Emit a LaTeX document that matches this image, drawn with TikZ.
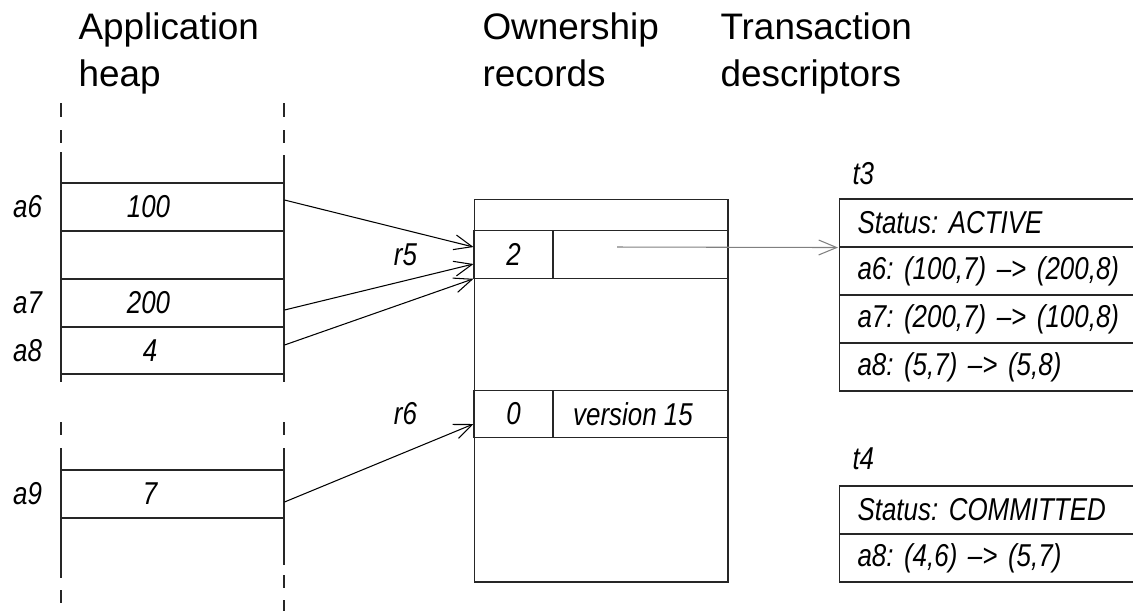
\documentclass[tikz,border=0pt]{standalone}
\usepackage{fontspec}
\setmainfont{Liberation Sans}
\newfontfamily\cellfont[FakeStretch=0.82]{Liberation Sans}
\usetikzlibrary{arrows.meta, positioning}
\frenchspacing

\tikzset{
    heading/.style={
        align=left, anchor=north west, inner sep=0pt, font=\fontsize{21}{27}\selectfont
    },
    heapcell/.style={
        rectangle, draw=black!85, minimum width=4.46cm, minimum height=0.96cm, inner sep=0pt
    },
    value/.style={
        inner sep=0pt, font=\cellfont\itshape\fontsize{18}{20}\selectfont
    },
    heapline/.style={
        draw=black!85
    },
    recbox/.style={
        rectangle, draw=black!85, minimum width=5.08cm, minimum height=7.66cm, inner sep=0pt
    },
    reccell/.style={
        rectangle, draw=black!85, minimum height=0.95cm, inner sep=0pt, font=\cellfont\itshape\fontsize{18}{20}\selectfont
    },
    desc/.style={
        rectangle, draw=black!85, anchor=west, minimum height=0.96cm, text width=6cm, inner xsep=0.36cm, inner ysep=0pt, align=left, font=\cellfont\itshape\fontsize{18}{20}\selectfont
    }
}

\begin{document}
\begin{tikzpicture}[x=0.02cm, y=-0.02cm, line width=0.6pt, >={Straight Barb[length=0.36cm,width=0.3cm]}]

    \useasboundingbox (0,0) rectangle (1133,610);
    \clip (0,0) rectangle (1133,610);

    % Headings
    \node[heading] (heaphead) at (78,12) {Application\\heap};
    \node[heading] (ownhead) at (482,12) {Ownership\\records};
    \node[heading] (txhead) at (720,12) {Transaction\\descriptors};

    % Application heap
    \node[heapcell] (a6cell) at (172.5,207) {};
    \node[heapcell] (gapcell) at (172.5,255) {};
    \node[heapcell] (a7cell) at (172.5,303) {};
    \node[heapcell, minimum height=0.94cm] (a8cell) at (172.5,350.5) {};
    \node[heapcell] (a9cell) at (172.5,494) {};

    \node[value] (v6) at ([xshift=-0.48cm]a6cell.center) {100};
    \node[value] (v7) at ([xshift=-0.48cm]a7cell.center) {200};
    \node[value] (v8) at ([xshift=-0.45cm]a8cell.center) {4};
    \node[value] (v9) at ([xshift=-0.45cm]a9cell.center) {7};

    \node[value, left=0.36cm of a6cell] (a6) {a6};
    \node[value, left=0.36cm of a7cell] (a7) {a7};
    \node[value, left=0.36cm of a8cell] (a8) {a8};
    \node[value, left=0.36cm of a9cell] (a9) {a9};

    % Heap borders
    \draw[heapline] (61,152) -- (61,382);
    \draw[heapline] (284,155) -- (284,382);
    \draw[heapline] (61,448) -- (61,578);
    \draw[heapline] (284,448) -- (284,565);
    \draw[heapline] (61,103) -- (61,117);
    \draw[heapline] (61,130) -- (61,143);
    \draw[heapline] (284,103) -- (284,117);
    \draw[heapline] (284,130) -- (284,143);
    \draw[heapline] (61,422) -- (61,435);
    \draw[heapline] (284,422) -- (284,435);
    \draw[heapline] (61,590) -- (61,603);
    \draw[heapline] (284,575) -- (284,588);
    \draw[heapline] (284,600) -- (284,612);

    % Ownership records
    \node[recbox] (records) at (601,390.5) {};
    \node[reccell, minimum width=1.58cm] (r5cnt) at (513.5,254.5) {2};
    \node[reccell, minimum width=3.5cm] (r5own) at (640.5,254.5) {};
    \node[reccell, minimum width=1.58cm] (r6cnt) at (513.5,414) {0};
    \node[reccell, minimum width=3.5cm] (r6own) at (640.5,414) {\hspace{-0.3cm}version 15};

    \node[value, left=1.12cm of r5cnt] (r5) {r5};
    \node[value, left=1.12cm of r6cnt] (r6) {r6};

    % Transaction descriptors
    \node[desc] (t3s) at (839,223) {Status: ACTIVE};
    \node[desc] (t3a6) at (839,271) {a6: (100,7) –> (200,8)};
    \node[desc] (t3a7) at (839,319) {a7: (200,7) –> (100,8)};
    \node[desc] (t3a8) at (839,367) {a8: (5,7) –> (5,8)};
    \node[value, anchor=base west] (t3) at ([xshift=0.26cm, yshift=0.28cm]t3s.north west) {t3};

    \node[desc] (t4s) at (839,510) {Status: COMMITTED};
    \node[desc] (t4a8) at (839,558) {a8: (4,6) –> (5,7)};
    \node[value, anchor=base west] (t4) at ([xshift=0.26cm, yshift=0.32cm]t4s.north west) {t4};

    % Pointers
    \draw[->] ([yshift=0.14cm]a6cell.east) -- ([yshift=0.15cm]r5cnt.west);
    \draw[->] ([yshift=-0.14cm]a7cell.east) -- ([yshift=-0.19cm]r5cnt.west);
    \draw[->] ([yshift=0.11cm]a8cell.east) -- (r5cnt.south west);
    \draw[->] ([yshift=-0.16cm]a9cell.east) -- ([yshift=-0.2cm]r6cnt.west);
    \draw[->, gray] ([xshift=-0.47cm, yshift=0.15cm]r5own.center) -- ([xshift=-0.02cm]t3s.south west);

\end{tikzpicture}
\end{document}
